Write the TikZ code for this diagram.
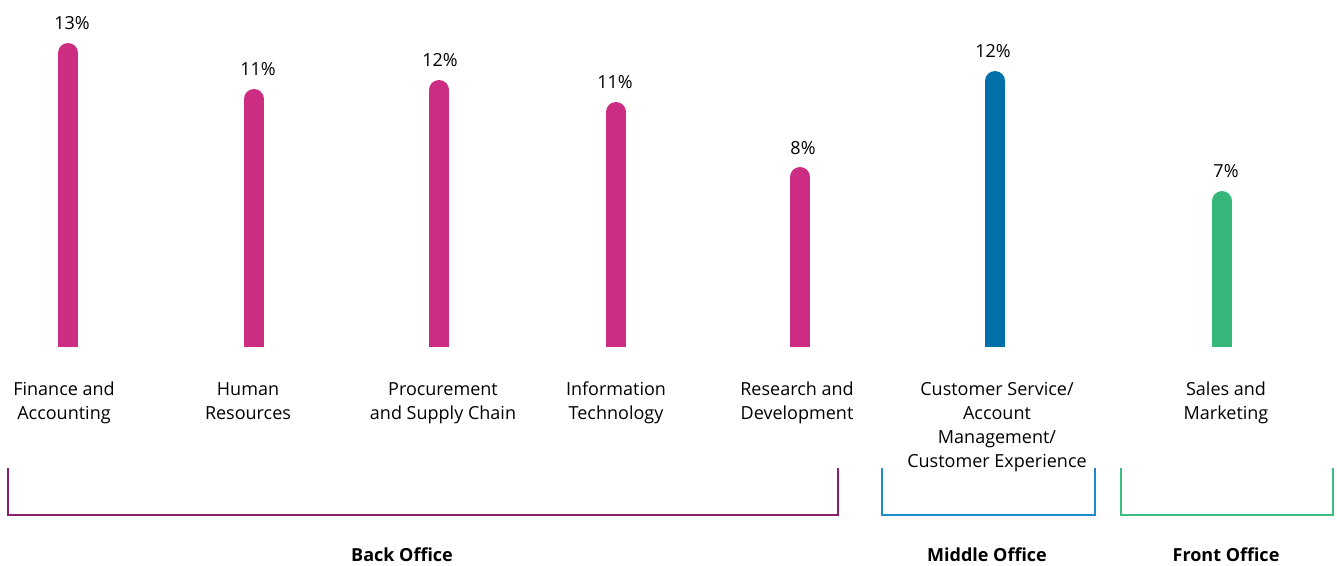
\documentclass[tikz,border=0pt]{standalone}
\usepackage{fontspec}
\setmainfont{Open Sans}
\definecolor{barpink}{HTML}{CC2C82}
\definecolor{barblue}{HTML}{0070A8}
\definecolor{bargreen}{HTML}{35B77A}
\definecolor{brpurple}{HTML}{8C1F70}
\definecolor{brblue}{HTML}{1E8CC8}
\definecolor{brgreen}{HTML}{3EBE82}
\tikzset{
  pct/.style={font=\fontsize{18}{20}\selectfont, inner sep=0pt, anchor=base},
  cat/.style={font=\fontsize{18}{24}\selectfont, align=center, inner sep=0pt, anchor=north, execute at begin node=\strut},
  grp/.style={font=\fontsize{18}{20}\selectfont\bfseries, inner sep=0pt, anchor=base},
  bracket/.style={line width=2pt}
}
\newcommand{\mybar}[4]{% x, top, colour, name
  \fill[#3] (#1-10,347) rectangle (#1+10,#2+10);
  \fill[#3] (#1,#2+10) circle (10);
  \coordinate (#4) at (#1,#2);
}
\begin{document}
\begin{tikzpicture}[x=1pt,y=-1pt]
\useasboundingbox (0,0) rectangle (1337,565);
\mybar{68}{43}{barpink}{b1}
\mybar{254}{89}{barpink}{b2}
\mybar{439}{80}{barpink}{b3}
\mybar{616}{102}{barpink}{b4}
\mybar{800}{167}{barpink}{b5}
\mybar{995}{71}{barblue}{b6}
\mybar{1222}{191}{bargreen}{b7}
\node[pct] (p1) at (72,29) {13\%};
\node[pct] (p2) at (258,75) {11\%};
\node[pct] (p3) at (440,66) {12\%};
\node[pct] (p4) at (615,88) {11\%};
\node[pct] (p5) at (803,154) {8\%};
\node[pct] (p6) at (993,57) {12\%};
\node[pct] (p7) at (1226,177) {7\%};
\node[cat] (c1) at (64,382) {Finance and\\Accounting};
\node[cat] (c2) at (248,382) {Human\\Resources};
\node[cat] (c3) at (443,382) {Procurement\\and Supply Chain};
\node[cat] (c4) at (616,382) {Information\\Technology};
\node[cat] (c5) at (797,382) {Research and\\Development};
\node[cat] (c6) at (997,382) {Customer Service/\\Account\\Management/\\Customer Experience};
\node[cat] (c7) at (1226,382) {Sales and\\Marketing};
\draw[bracket, brpurple] (8,468) |- (838,515) -- (838,468);
\draw[bracket, brblue] (882,468) |- (1095,515) -- (1095,468);
\draw[bracket, brgreen] (1121,468) |- (1333,515) -- (1333,468);
\node[grp] (g1) at (402,561) {Back Office};
\node[grp] (g2) at (987,561) {Middle Office};
\node[grp] (g3) at (1226,561) {Front Office};
\end{tikzpicture}
\end{document}
